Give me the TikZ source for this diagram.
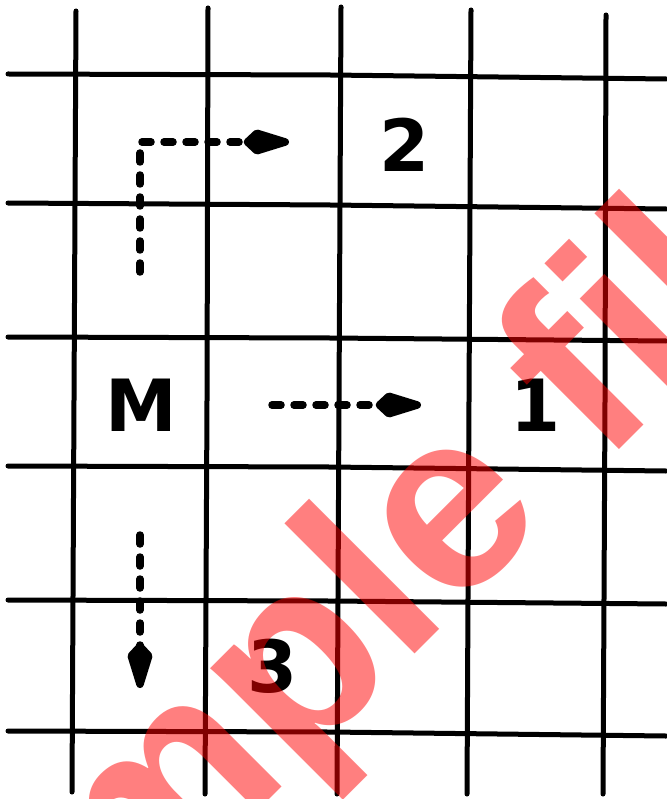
\documentclass[tikz,border=0pt]{standalone}
\usepackage{fontspec}
\usetikzlibrary{arrows.meta}
\newfontfamily\labfont{DejaVu Sans}[BoldFont={DejaVu Sans Bold}]
\newfontfamily\wmfont{Liberation Sans}[BoldFont={Liberation Sans Bold}]
\begin{document}
\begin{tikzpicture}[x=1pt,y=-1pt,
  gridline/.style={line width=5pt,line cap=round,black},
  dasharrow/.style={line width=7.5pt,line cap=round,dash pattern=on 9pt off 13pt,
    -{Kite[length=56pt 0 0,width=26pt 0 0,inset=14pt 0 0,round]}},
  lab/.style={font=\labfont\bfseries\fontsize{72}{72}\selectfont,inner sep=0pt},
  wm/.style={font=\wmfont\bfseries\fontsize{254}{254}\selectfont,text=red,
    text opacity=0.5,inner sep=0pt,rotate=45,anchor=base}]
\fill[white] (0,0) rectangle (666,799);
\useasboundingbox (0,0) rectangle (666,799);
% horizontal grid lines
\draw[gridline] (8,74) -- (330,75) -- (666,79);
\draw[gridline] (8,203) -- (330,205) -- (666,209);
\draw[gridline] (8,337) -- (330,338) -- (666,341);
\draw[gridline] (8,466) -- (330,467) -- (666,471);
\draw[gridline] (8,600) -- (330,601) -- (666,604);
\draw[gridline] (8,731) -- (330,732) -- (666,736);
% vertical grid lines
\draw[gridline] (76,11) -- (74,400) -- (72,792);
\draw[gridline] (208,8) -- (207,400) -- (205,794);
\draw[gridline] (341,7) -- (339,400) -- (337,794);
\draw[gridline] (471,10) -- (469,400) -- (467,794);
\draw[gridline] (606,15) -- (605,400) -- (603,794);
% labels
\node[lab] (n2) at (405,145) {2};
\node[lab] (nM) at (141,405) {M};
\node[lab] (n1) at (536,405) {1};
\node[lab] (n3) at (273,666) {3};
% arrow coordinates
\coordinate (a0) at (140,272);
\coordinate (ac) at (140,142);
\coordinate (a1) at (289,142);
\coordinate (b0) at (272,405);
\coordinate (b1) at (421,405);
\coordinate (c0) at (140,535);
\coordinate (c1) at (140,688);
\draw[dasharrow] (a0) -- (ac) -- (a1);
\draw[dasharrow] (b0) -- (b1);
\draw[dasharrow] (c0) -- (c1);
% watermark
\node[wm] (wmk) at (388,681) {Sample file};
\end{tikzpicture}
\end{document}
